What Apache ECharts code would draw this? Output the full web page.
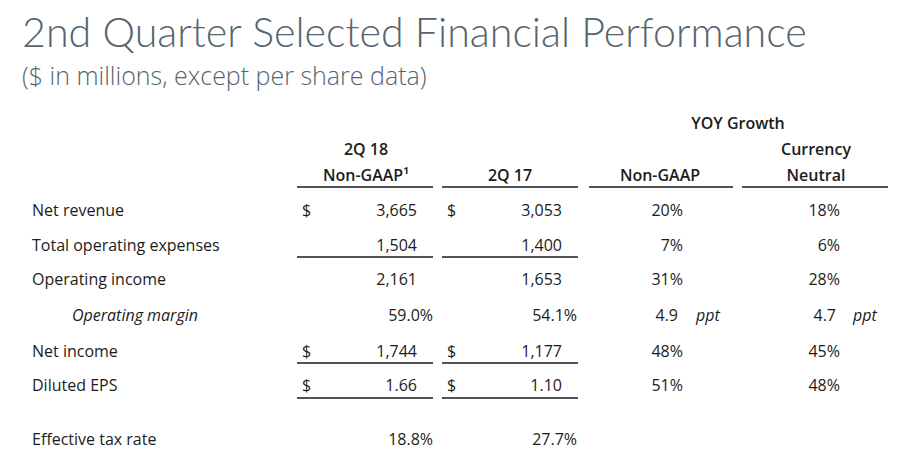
<!DOCTYPE html>
<html>
<head>
<meta charset="utf-8">
<script src="https://cdn.jsdelivr.net/npm/echarts@6/dist/echarts.min.js"></script>
<style>
html,body{margin:0;padding:0;background:#ffffff;}
#main{width:917px;height:469px;}
</style>
</head>
<body>
<div id="main"></div>
<script>
// ---------- data ----------
const titleText = '2nd Quarter Selected Financial Performance';
const subtitleText = '($ in millions, except per share data)';
const groupHeader = 'YOY Growth';
const headerTop = ['2Q 18', '', '', 'Currency'];
const headerBottom = ['Non-GAAP¹', '2Q 17', 'Non-GAAP', 'Neutral'];
const rowLabels = ['Net revenue', 'Total operating expenses', 'Operating income', 'Operating margin', 'Net income', 'Diluted EPS', 'Effective tax rate'];
const q2_2018 = [3665, 1504, 2161, 59.0, 1744, 1.66, 18.8];
const q2_2017 = [3053, 1400, 1653, 54.1, 1177, 1.10, 27.7];
const yoyNonGaap = [20, 7, 31, 4.9, 48, 51, null];
const yoyCurrencyNeutral = [18, 6, 28, 4.7, 45, 48, null];
const rowKinds = ['usd', 'num', 'num', 'pct', 'usd', 'eps', 'pct'];
const growthUnits = ['%', '%', '%', 'ppt', '%', '%', null];
const pptLabel = 'ppt';

// ---------- layout & style ----------
const W = 917, H = 469;
const FONT = "'Open Sans', 'Noto Sans', sans-serif";
const TITLE_FONT = "Lato, 'Open Sans', sans-serif";
const SUB_FONT = "'Open Sans', Lato, sans-serif";
const TEXT_COLOR = '#1c1c1c';
const TITLE_COLOR = '#56646e';
const LAYOUT = {
  titleWidth: 786,
  subWidth: 405,
  rowY: [210, 245, 279, 315, 351, 385, 439],
  headY: [123, 149, 175],
  labelX: 32,
  indentX: 72,
  italicRows: [3],
  dollarX: [302, 447],
  numRight: [417, 562],
  pctRight: [433, 577],
  growthRight: [683, 840],
  pptNumRight: [678, 836],
  pptX: [696, 853],
  headCenter: [366, 510, 660, 816],
  groupCenter: 738,
  ruleY: { header: 187, rows: [257, 363, 398] },
  colSpan: [[297, 433], [442, 578], [589, 733], [742, 888]]
};

function fitSize(text, family, weight, base, target, lo, hi) {
  const ctx = document.createElement('canvas').getContext('2d');
  ctx.font = weight + ' ' + base + 'px ' + family;
  const w = ctx.measureText(text).width;
  if (!w) return base;
  return Math.max(lo, Math.min(hi, base * target / w));
}

// ---------- build text cells ----------
const cells = [];
function addCell(x, y, text, align, opts) {
  cells.push(Object.assign({ x, y, text, align, size: 16, weight: 400, style: 'normal', color: TEXT_COLOR }, opts || {}));
}
function fmt(v, kind) {
  if (kind === 'usd' || kind === 'num') return v.toLocaleString('en-US');
  if (kind === 'eps') return v.toFixed(2);
  if (kind === 'pct') return v.toFixed(1) + '%';
  return String(v);
}
addCell(LAYOUT.groupCenter, LAYOUT.headY[0], groupHeader, 'center', { weight: 600 });
headerTop.forEach((t, i) => { if (t) addCell(LAYOUT.headCenter[i], LAYOUT.headY[1], t, 'center', { weight: 600 }); });
headerBottom.forEach((t, i) => { if (t) addCell(LAYOUT.headCenter[i], LAYOUT.headY[2], t, 'center', { weight: 600 }); });
rowLabels.forEach((label, r) => {
  const y = LAYOUT.rowY[r];
  const italic = LAYOUT.italicRows.indexOf(r) >= 0;
  addCell(italic ? LAYOUT.indentX : LAYOUT.labelX, y, label, 'left', italic ? { style: 'italic' } : null);
  const kind = rowKinds[r];
  [q2_2018, q2_2017].forEach((arr, c) => {
    if (kind === 'usd' || kind === 'eps') addCell(LAYOUT.dollarX[c], y, '$', 'left');
    const right = kind === 'pct' ? LAYOUT.pctRight[c] : LAYOUT.numRight[c];
    addCell(right, y, fmt(arr[r], kind), 'right');
  });
  [yoyNonGaap, yoyCurrencyNeutral].forEach((arr, c) => {
    const v = arr[r];
    if (v === null || v === undefined) return;
    if (growthUnits[r] === 'ppt') {
      addCell(LAYOUT.pptNumRight[c], y, v.toFixed(1), 'right');
      addCell(LAYOUT.pptX[c], y, pptLabel, 'left', { style: 'italic' });
    } else {
      addCell(LAYOUT.growthRight[c], y, v + '%', 'right');
    }
  });
});

// ---------- rules ----------
const rules = [];
LAYOUT.colSpan.forEach(s => rules.push([s[0], s[1], LAYOUT.ruleY.header]));
LAYOUT.ruleY.rows.forEach(y => { rules.push([LAYOUT.colSpan[0][0], LAYOUT.colSpan[0][1], y]); rules.push([LAYOUT.colSpan[1][0], LAYOUT.colSpan[1][1], y]); });

function render() {
  const titleSize = fitSize(titleText, TITLE_FONT, 300, 40, LAYOUT.titleWidth, 38, 43);
  const subSize = fitSize(subtitleText, SUB_FONT, 300, 20, LAYOUT.subWidth, 19, 25);
  const chart = echarts.init(document.getElementById('main'), null, { renderer: 'svg', width: W, height: H });
  chart.setOption({
    animation: false,
    backgroundColor: '#ffffff',
    title: [
      { text: titleText, left: 22, top: 11 - (titleSize - 40) / 2, padding: 0, textStyle: { fontFamily: TITLE_FONT, fontWeight: 300, fontSize: titleSize, color: TITLE_COLOR } },
      { text: subtitleText, left: 22, top: 64 - (subSize - 21) / 2, padding: 0, textStyle: { fontFamily: SUB_FONT, fontWeight: 300, fontSize: subSize, color: TITLE_COLOR } }
    ],
    grid: { left: 0, right: 0, top: 0, bottom: 0 },
    xAxis: { type: 'value', min: 0, max: W, show: false },
    yAxis: { type: 'value', min: 0, max: H, inverse: true, show: false },
    series: [
      {
        type: 'custom',
        silent: true,
        clip: false,
        data: rules,
        encode: { x: [0, 1], y: 2 },
        renderItem: (params, api) => {
          const a = api.coord([api.value(0), api.value(2)]);
          const b = api.coord([api.value(1), api.value(2)]);
          return { type: 'line', shape: { x1: a[0], y1: a[1], x2: b[0], y2: b[1] }, style: { stroke: '#1a1a1a', lineWidth: 1.7 } };
        }
      },
      {
        type: 'custom',
        silent: true,
        clip: false,
        data: cells.map(c => [c.x, c.y]),
        encode: { x: 0, y: 1 },
        renderItem: (params, api) => {
          const c = cells[params.dataIndex];
          const p = api.coord([api.value(0), api.value(1)]);
          return {
            type: 'text',
            x: p[0], y: p[1],
            style: {
              text: c.text, x: 0, y: 0,
              align: c.align, verticalAlign: 'middle',
              fontFamily: FONT, fontSize: c.size, fontWeight: c.weight, fontStyle: c.style,
              fill: c.color
            }
          };
        }
      }
    ]
  });
}
if (document.fonts && document.fonts.ready) { document.fonts.ready.then(render); } else { render(); }
</script>
</body>
</html>
